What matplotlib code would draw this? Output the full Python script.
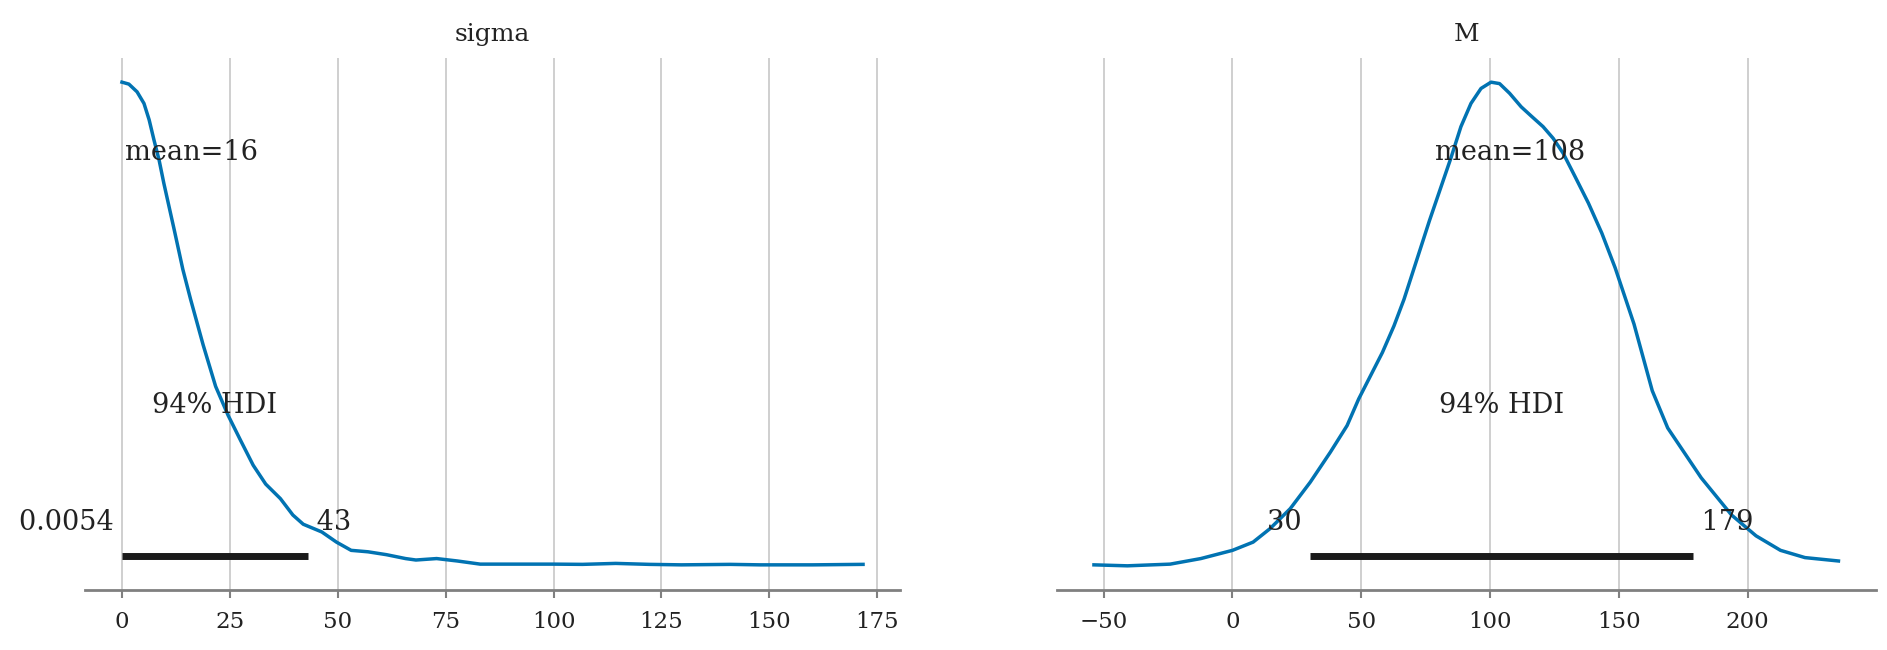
import matplotlib
matplotlib.use("Agg")
import matplotlib.pyplot as plt

plt.rcParams["font.family"] = ["DejaVu Serif"]

# posterior densities (relative height, peak = 1)
sigma_x = [0, 1.6, 3.5, 5.1, 6.3, 7.4, 8.6, 9.7, 10.9, 12.1, 13.2, 14.1, 15.9, 18.8,
           21.7, 24.6, 27.5, 30.4, 33.3, 36.7, 39.6, 42.0, 46.3, 49.7, 53.1, 57.0, 61.3,
           65.7, 68.1, 72.9, 77.7, 83.0, 89.3, 99.9, 106.7, 114.4, 122.2, 129.6, 140.9,
           147.9, 160.0, 171.7]
sigma_d = [1.0, 0.996, 0.98, 0.956, 0.922, 0.881, 0.839, 0.791, 0.743, 0.695, 0.650,
           0.613, 0.551, 0.457, 0.371, 0.311, 0.259, 0.208, 0.169, 0.139, 0.105, 0.086,
           0.070, 0.049, 0.032, 0.029, 0.023, 0.015, 0.012, 0.015, 0.010, 0.0035, 0.0035,
           0.0035, 0.003, 0.005, 0.003, 0.002, 0.003, 0.002, 0.002, 0.003]

m_x = [-53.8, -40.8, -24.2, -12.3, 0, 8.0, 14.6, 22.4, 30.2, 38.0, 44.5, 49.0, 53.6,
       58.2, 62.7, 66.6, 76.5, 84.8, 88.7, 92.6, 96.5, 100.4, 103.7, 107.6, 112.1, 116.0,
       120.6, 124.5, 128.4, 133.0, 138.2, 143.4, 148.6, 155.9, 163.0, 169.0, 182.0,
       193.8, 203.3, 212.8, 222.3, 235.3]
m_d = [0.002, 0.0, 0.0035, 0.015, 0.032, 0.049, 0.077, 0.118, 0.173, 0.235, 0.29, 0.345,
       0.393, 0.441, 0.496, 0.551, 0.714, 0.843, 0.908, 0.956, 0.987, 1.0, 0.997, 0.977,
       0.949, 0.93, 0.908, 0.884, 0.853, 0.805, 0.75, 0.688, 0.616, 0.50, 0.362, 0.285,
       0.182, 0.105, 0.062, 0.032, 0.017, 0.010]

names = ["sigma", "M"]
means = [16, 108]
hdi_low = [0.0054, 30]
hdi_high = [43, 179]
low_labels = ["0.0054", "30"]
high_labels = ["43", "179"]
xticks = [[0, 25, 50, 75, 100, 125, 150, 175], [-50, 0, 50, 100, 150, 200]]

blue = "#0173b2"
txt = "#222222"

fig = plt.figure(figsize=(18.87, 6.5), dpi=100)
axes = [fig.add_axes([0.045, 0.0923, 0.432, 0.8185]),
        fig.add_axes([0.560, 0.0923, 0.434, 0.8185])]

curves = [(sigma_x, sigma_d), (m_x, m_d)]
for i, ax in enumerate(axes):
    x, d = curves[i]
    ax.plot(x, d, color=blue, lw=2.5, zorder=3)
    peak = max(d)
    ax.set_ylim(-0.05 * peak, 1.05 * peak)
    top = ax.get_ylim()[1]

    # hdi bar and labels
    ax.plot([hdi_low[i], hdi_high[i]], [top * 0.02, top * 0.02], color="#1a1a1a", lw=5,
            solid_capstyle="butt", zorder=4)
    ax.text((hdi_low[i] + hdi_high[i]) / 2, top * 0.3, "94% HDI", ha="center",
            size=19.5, color=txt)
    ax.text(hdi_low[i], top * 0.07, low_labels[i] + " ", ha="right", size=19.5, color=txt)
    ax.text(hdi_high[i], top * 0.07, " " + high_labels[i], ha="left", size=19.5, color=txt)
    ax.text(means[i], top * 0.8, f"mean={means[i]}", ha="center", size=19.5, color=txt)

    ax.set_title(names[i], size=18, color=txt, pad=12)
    ax.set_xticks(xticks[i])
    ax.set_xticklabels([str(t).replace("-", "\u2212") for t in xticks[i]])
    ax.tick_params(axis="x", colors="#808080", labelcolor=txt, labelsize=16.5,
                   length=6, width=1.5, pad=9)
    ax.set_yticks([])
    for side in ["left", "right", "top"]:
        ax.spines[side].set_visible(False)
    ax.spines["bottom"].set_color("#808080")
    ax.spines["bottom"].set_linewidth(2)
    ax.grid(True, axis="x", color="#cccccc", lw=1.3)
    ax.set_axisbelow(True)

fig.savefig("out.png", dpi=100)
